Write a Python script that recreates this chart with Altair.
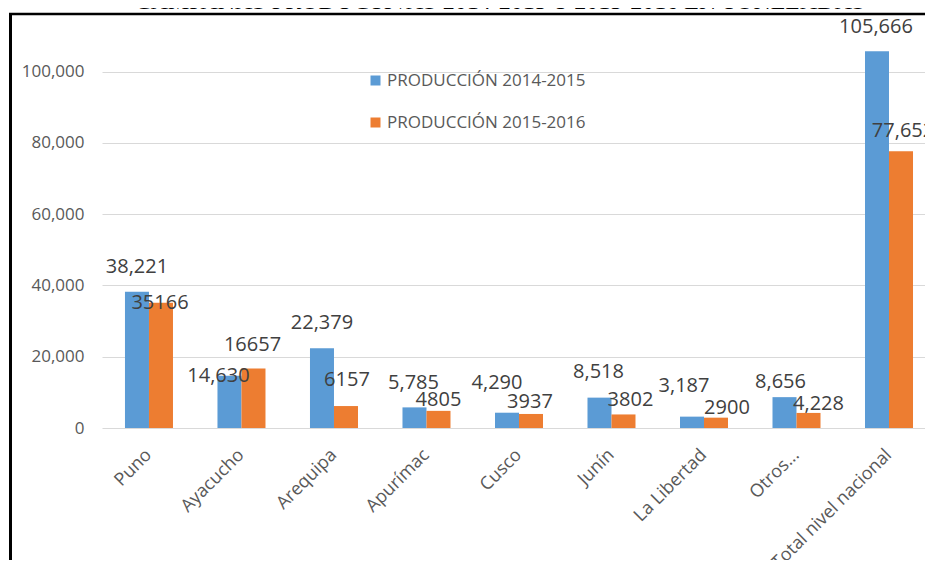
import altair as alt
import pandas as pd

categories = ["Puno", "Ayacucho", "Arequipa", "Apurímac", "Cusco", "Junín",
              "La Libertad", "Otros...", "Total nivel nacional"]
series_names = ["PRODUCCIÓN 2014-2015", "PRODUCCIÓN 2015-2016"]
prod_2014_2015 = [38221, 14630, 22379, 5785, 4290, 8518, 3187, 8656, 105666]
prod_2015_2016 = [35166, 16657, 6157, 4805, 3937, 3802, 2900, 4228, 77652]
labels_2014_2015 = ["38,221", "14,630", "22,379", "5,785", "4,290", "8,518",
                    "3,187", "8,656", "105,666"]
labels_2015_2016 = ["35166", "16657", "6157", "4805", "3937", "3802",
                    "2900", "4,228", "77,652"]
# label nudges (pixels): rise above bar top, horizontal shift
rise_2014_2015 = [25, 0, 25, 24, 30, 26, 31, 15, 24]
shift_2014_2015 = [0, -11, 0, -1, -10, -1, -8, -4, -1]
rise_2015_2016 = [0, 24, 26, 11, 12, 14, 10, 9, 20]
shift_2015_2016 = [-1, -1, 1, 0, -1, 7, 11, 10, 2]
title_text = "CAMPAÑAS PRODUCTIVAS 2014-2015 Y 2015-2016 EN TONELADAS"
y_ticks = [0, 20000, 40000, 60000, 80000, 100000]

rows = []
for i, c in enumerate(categories):
    rows.append(dict(cat=c, serie=series_names[0], value=prod_2014_2015[i],
                     label=labels_2014_2015[i], rise=rise_2014_2015[i],
                     shift=shift_2014_2015[i]))
    rows.append(dict(cat=c, serie=series_names[1], value=prod_2015_2016[i],
                     label=labels_2015_2016[i], rise=rise_2015_2016[i],
                     shift=shift_2015_2016[i]))
df = pd.DataFrame(rows)

W, H = 823, 414
YMAX = 116130
UNITS_PER_PX = YMAX / H
FONT = "Open Sans"
GRAY = "#595959"

x_scale = alt.Scale(paddingInner=0.481, paddingOuter=0.189, align=0.657)
x_axis = alt.Axis(labelAngle=-45, labelAlign="right", labelBaseline="middle",
                  labelFont=FONT, labelFontSize=18, labelColor=GRAY,
                  labelPadding=24, domain=False, ticks=False, grid=False,
                  labelOverlap=False, labelLimit=0)
y_scale = alt.Scale(domain=[0, YMAX], nice=False, zero=True)
y_axis = alt.Axis(values=y_ticks, labelExpr="format(datum.value, ',')",
                  labelFont=FONT, labelFontSize=17, labelColor=GRAY,
                  labelPadding=18, domain=False, ticks=False,
                  gridColor="#D9D9D9", gridWidth=1.2)
color_scale = alt.Scale(domain=series_names, range=["#5B9BD5", "#ED7D31"])
off_scale = alt.Scale(paddingInner=0, paddingOuter=0)

base = alt.Chart(df)

bars = base.mark_bar().encode(
    x=alt.X("cat:N", sort=categories, title=None, scale=x_scale, axis=x_axis),
    xOffset=alt.XOffset("serie:N", sort=series_names, scale=off_scale),
    y=alt.Y("value:Q", scale=y_scale, title=None, axis=y_axis),
    color=alt.Color("serie:N", scale=color_scale, sort=series_names, title=None,
                    legend=alt.Legend(orient="none", legendX=265, legendY=58,
                                      symbolType="square", symbolSize=100,
                                      symbolStrokeWidth=0, labelFont=FONT,
                                      labelFontSize=17, labelColor=GRAY,
                                      labelOffset=3, rowPadding=24, padding=0,
                                      labelLimit=0)),
)

texts = base.transform_calculate(
    ylab=f"datum.value + datum.rise * {UNITS_PER_PX}"
).mark_text(font=FONT, fontSize=20, color="#404040", baseline="middle",
            align="center", dx=alt.ExprRef("datum.shift")).encode(
    x=alt.X("cat:N", sort=categories, title=None, scale=x_scale, axis=x_axis),
    xOffset=alt.XOffset("serie:N", sort=series_names, scale=off_scale),
    y=alt.Y("ylab:Q", scale=y_scale, title=None, axis=y_axis),
    text="label:N",
)

one = alt.Data(values=[{}])
left_border = alt.Chart(one).mark_rule(color="#000000", strokeWidth=3).encode(
    x=alt.value(-91.5), y=alt.value(-1), y2=alt.value(560))
top_border = alt.Chart(one).mark_rule(color="#000000", strokeWidth=2.5).encode(
    x=alt.value(-93), x2=alt.value(W + 10), y=alt.value(0))
title = alt.Chart(alt.Data(values=[{"t": title_text}])).mark_text(
    font="Liberation Sans Narrow", fontSize=24, color="#000000",
    baseline="alphabetic", align="center").encode(
    x=alt.value(398), y=alt.value(-5), text="t:N")

chart = alt.layer(bars, texts, left_border, top_border, title).properties(
    width=W, height=H,
    autosize=alt.AutoSizeParams(type="none"),
    padding={"left": 94, "top": 6, "right": 0, "bottom": 132},
).configure_view(stroke=None)

chart.save("out.html", embed_options={"renderer": "svg", "actions": False})
